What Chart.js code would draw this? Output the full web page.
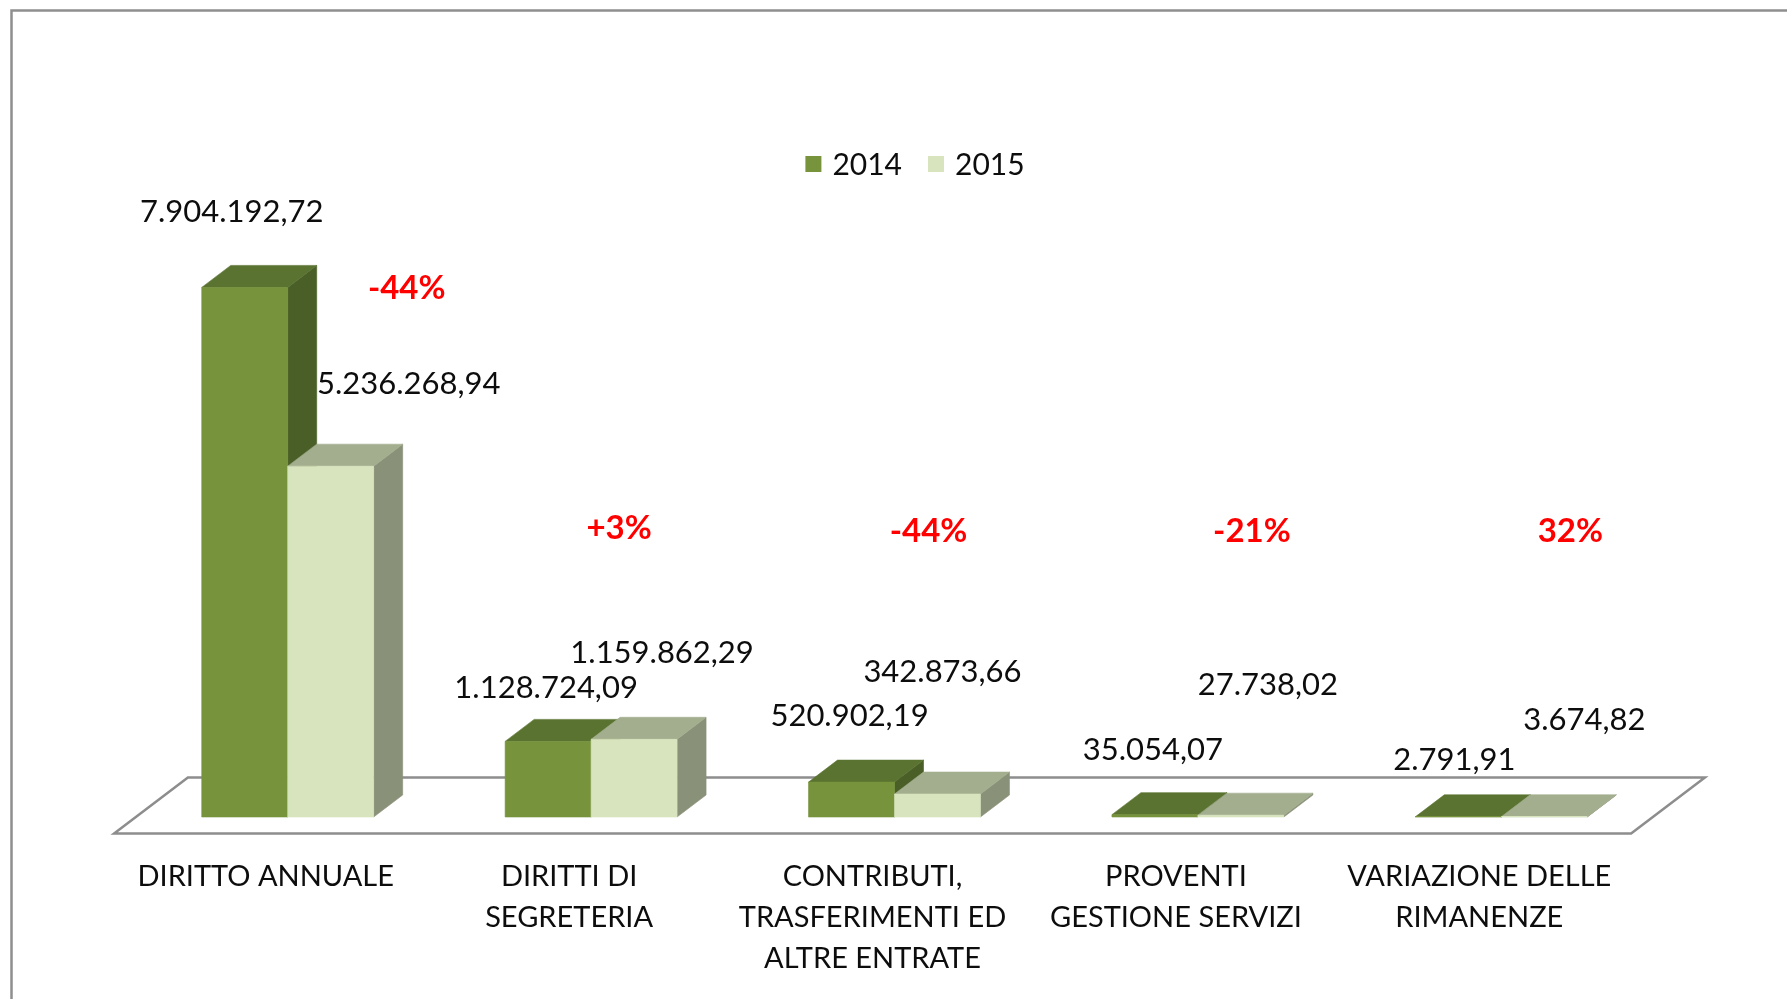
<!DOCTYPE html>
<html>
<head>
<meta charset="utf-8">
<script src="https://cdn.jsdelivr.net/npm/chart.js@4/dist/chart.umd.min.js"></script>
<style>
  html, body { margin: 0; padding: 0; background: #ffffff; }
  #wrap { width: 1787px; height: 999px; }
</style>
</head>
<body>
<div id="wrap"><canvas id="c" width="1787" height="999"></canvas></div>
<script>
// ---------------- DATA ----------------
const categories = [
  ["DIRITTO ANNUALE"],
  ["DIRITTI DI", "SEGRETERIA"],
  ["CONTRIBUTI,", "TRASFERIMENTI ED", "ALTRE ENTRATE"],
  ["PROVENTI", "GESTIONE SERVIZI"],
  ["VARIAZIONE DELLE", "RIMANENZE"]
];
const seriesNames = ["2014", "2015"];
const values2014 = [7904192.72, 1128724.09, 520902.19, 35054.07, 2791.91];
const values2015 = [5236268.94, 1159862.29, 342873.66, 27738.02, 3674.82];
const changeLabels = ["-44%", "+3%", "-44%", "-21%", "32%"];
const yMin = 0;
const yMax = 8000000;

// ---------------- LAYOUT (label placement, pixels) ----------------
const labelOffset2014 = [[-13, -75], [-2, -53], [-2, -66], [-2, -65], [-4, -57]];
const labelOffset2015 = [[78, -82], [28, -86], [5, -122], [27, -130], [40, -97]];
const changeOffset = [[119, -529], [28, -289], [34, -286], [54, -286], [69, -286]];

// ---------------- STYLE ----------------
const FONT = "Lato, 'Open Sans', sans-serif";
const colors = {
  s2014: { front: "#77933C", top: "#5A7330", side: "#4A5F27" },
  s2015: { front: "#D7E4BD", top: "#A3AE8E", side: "#8A9179" }
};
const DEPTH_X = 29, DEPTH_Y = 22;

function formatIt(v) {
  const parts = v.toFixed(2).split(".");
  const intPart = parts[0].replace(/\B(?=(\d{3})+(?!\d))/g, ".");
  return intPart + "," + parts[1];
}

function poly(ctx, pts, fill) {
  ctx.beginPath();
  ctx.moveTo(pts[0][0], pts[0][1]);
  for (let i = 1; i < pts.length; i++) ctx.lineTo(pts[i][0], pts[i][1]);
  ctx.closePath();
  ctx.fillStyle = fill;
  ctx.fill();
  ctx.strokeStyle = fill;
  ctx.lineWidth = 0.6;
  ctx.stroke();
}

function drawBox(ctx, el, pal) {
  const w = el.width;
  const l = el.x - w / 2, r = el.x + w / 2;
  const t = Math.min(el.y, el.base), b = el.base;
  poly(ctx, [[r, t], [r + DEPTH_X, t - DEPTH_Y], [r + DEPTH_X, b - DEPTH_Y], [r, b]], pal.side);
  poly(ctx, [[l, t], [l + DEPTH_X, t - DEPTH_Y], [r + DEPTH_X, t - DEPTH_Y], [r, t]], pal.top);
  if (b - t > 0.5) poly(ctx, [[l, t], [r, t], [r, b], [l, b]], pal.front);
  else { ctx.fillStyle = pal.front; ctx.fillRect(l, b - 1, w, 1.2); }
}

const plugin3d = {
  id: "bars3d",
  beforeDraw(chart) {
    const ctx = chart.ctx;
    ctx.save();
    ctx.fillStyle = "#ffffff";
    ctx.fillRect(0, 0, chart.width, chart.height);
    ctx.strokeStyle = "#8f8f8f";
    ctx.lineWidth = 2.5;
    ctx.strokeRect(11.5, 10.5, chart.width + 20, chart.height + 20);
    ctx.restore();
  },
  beforeDatasetsDraw(chart) {
    const ctx = chart.ctx;
    const ca = chart.chartArea;
    const base = chart.scales.y.getPixelForValue(0);
    const f = -0.755, bk = 1.79;
    ctx.save();
    ctx.beginPath();
    ctx.moveTo(ca.left + f * DEPTH_X, base - f * DEPTH_Y);
    ctx.lineTo(ca.left + bk * DEPTH_X, base - bk * DEPTH_Y);
    ctx.lineTo(ca.right + bk * DEPTH_X, base - bk * DEPTH_Y);
    ctx.lineTo(ca.right + f * DEPTH_X, base - f * DEPTH_Y);
    ctx.closePath();
    ctx.fillStyle = "#ffffff";
    ctx.fill();
    ctx.strokeStyle = "#8d8d8d";
    ctx.lineWidth = 2.5;
    ctx.stroke();
    const m0 = chart.getDatasetMeta(0), m1 = chart.getDatasetMeta(1);
    for (let i = 0; i < categories.length; i++) {
      drawBox(ctx, m0.data[i], colors.s2014);
      drawBox(ctx, m1.data[i], colors.s2015);
    }
    ctx.restore();
    return false;
  },
  afterDraw(chart) {
    const ctx = chart.ctx;
    const xs = chart.scales.x;
    const base = chart.scales.y.getPixelForValue(0);
    const m0 = chart.getDatasetMeta(0), m1 = chart.getDatasetMeta(1);
    ctx.save();
    ctx.textAlign = "center";
    ctx.textBaseline = "middle";
    ctx.font = "31px " + FONT;
    ctx.fillStyle = "#0d0d0d";
    for (let i = 0; i < categories.length; i++) {
      const e0 = m0.data[i], e1 = m1.data[i];
      ctx.fillText(formatIt(values2014[i]), e0.x + labelOffset2014[i][0], e0.y + labelOffset2014[i][1]);
      ctx.fillText(formatIt(values2015[i]), e1.x + labelOffset2015[i][0], e1.y + labelOffset2015[i][1]);
    }
    ctx.font = "bold 33px " + FONT;
    ctx.fillStyle = "#FF0000";
    for (let i = 0; i < categories.length; i++) {
      const cx = xs.getPixelForValue(i);
      ctx.fillText(changeLabels[i], cx + changeOffset[i][0], base + changeOffset[i][1]);
    }
    ctx.font = "30px " + FONT;
    ctx.textAlign = "left";
    const sq = 16, gapTxt = 11, gapItem = 26, ly = 164;
    const widths = seriesNames.map(n => sq + gapTxt + ctx.measureText(n).width);
    const total = widths[0] + gapItem + widths[1];
    let lx = 915 - total / 2;
    const legendColors = [colors.s2014.front, colors.s2015.front];
    for (let k = 0; k < seriesNames.length; k++) {
      ctx.fillStyle = legendColors[k];
      ctx.fillRect(lx, ly - sq / 2, sq, sq);
      ctx.fillStyle = "#0d0d0d";
      ctx.fillText(seriesNames[k], lx + sq + gapTxt, ly + 1);
      lx += widths[k] + gapItem;
    }
    ctx.restore();
  }
};

new Chart(document.getElementById("c"), {
  type: "bar",
  data: {
    labels: categories,
    datasets: [
      { label: seriesNames[0], data: values2014, backgroundColor: colors.s2014.front },
      { label: seriesNames[1], data: values2015, backgroundColor: colors.s2015.front }
    ]
  },
  options: {
    responsive: false,
    animation: false,
    devicePixelRatio: 1,
    layout: { padding: { left: 136, right: 134, top: 281, bottom: 0 } },
    datasets: { bar: { categoryPercentage: 0.5667, barPercentage: 1.0 } },
    scales: {
      x: {
        grid: { display: false, drawTicks: false },
        border: { display: false },
        ticks: {
          color: "#0d0d0d",
          font: { family: FONT, size: 29, lineHeight: 1.42 },
          padding: 39,
          labelOffset: -22,
          maxRotation: 0,
          autoSkip: false
        },
        afterFit(scale) { scale.height = 182; }
      },
      y: { display: false, min: yMin, max: yMax }
    },
    plugins: { legend: { display: false }, tooltip: { enabled: false } }
  },
  plugins: [plugin3d]
});
</script>
</body>
</html>
